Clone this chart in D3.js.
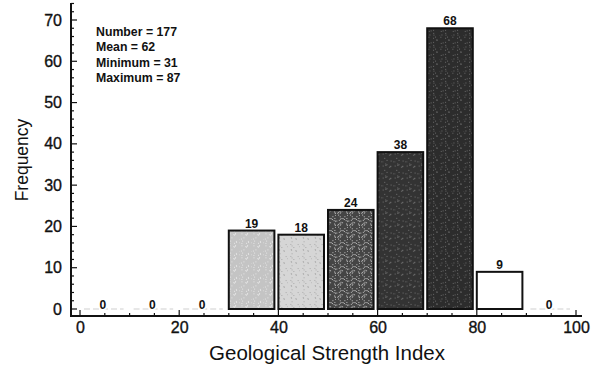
<!DOCTYPE html>
<html>
<head>
<meta charset="utf-8">
<script src="https://cdn.jsdelivr.net/npm/d3@7"></script>
<style>
  body { margin: 0; background: #fff; }
  svg { font-family: "Liberation Sans", Arial, sans-serif; }
</style>
</head>
<body>
<div id="chart"></div>
<script>
// histogram bins (lower edge) and counts
const binStarts = [0, 10, 20, 30, 40, 50, 60, 70, 80, 90];
const counts = [0, 0, 0, 19, 18, 24, 38, 68, 9, 0];
const statLines = ["Number = 177", "Mean = 62", "Minimum = 31", "Maximum = 87"];
const xTicks = [0, 20, 40, 60, 80, 100];
const yTicks = [0, 10, 20, 30, 40, 50, 60, 70];

const width = 600, height = 368;
const axisY = 316;

let x = d3.scaleLinear().domain([0, 100]).range([80, 576]);
let y = d3.scaleLinear().domain([0, 70]).range([309, 20]);

let svg = d3.select("#chart").append("svg")
    .attr("width", width)
    .attr("height", height);

// speckle patterns to mimic the print texture
let defs = svg.append("defs");
function speckle(id, base, dot, n, seed) {
    let p = defs.append("pattern")
        .attr("id", id)
        .attr("patternUnits", "userSpaceOnUse")
        .attr("width", 12).attr("height", 12);
    p.append("rect").attr("width", 12).attr("height", 12).attr("fill", base);
    let s = seed;
    for (let i = 0; i < n; i++) {
        s = (s * 9301 + 49297) % 233280;
        let px = (s / 233280) * 12;
        s = (s * 9301 + 49297) % 233280;
        let py = (s / 233280) * 12;
        p.append("rect").attr("x", px).attr("y", py)
            .attr("width", 1).attr("height", 1).attr("fill", dot);
    }
}
speckle("p3", "#c4c4c4", "#e6e6e6", 14, 7);
speckle("p4", "#d6d6d6", "#aaaaaa", 10, 11);
speckle("p5", "#454545", "#c0c0c0", 24, 3);
speckle("p6", "#333333", "#707070", 12, 5);
speckle("p7", "#2c2c2c", "#686868", 12, 13);
const binFills = [null, null, null, "url(#p3)", "url(#p4)", "url(#p5)", "url(#p6)", "url(#p7)", "#ffffff", null];

const bw = x(10) - x(0) - 4;

// zero-count bins: faint baseline
svg.selectAll(".zero-line")
    .data(binStarts.filter((d, i) => counts[i] === 0))
  .enter().append("line")
    .attr("class", "zero-line")
    .attr("x1", d => x(d) + 4)
    .attr("x2", d => x(d) + bw - 2)
    .attr("y1", y(0)).attr("y2", y(0))
    .attr("stroke", "#cfcfcf")
    .attr("stroke-width", 1.2)
    .attr("stroke-dasharray", "6,3");

// bars
svg.selectAll(".bar")
    .data(binStarts.map((d, i) => ({ start: d, count: counts[i], fill: binFills[i] })).filter(d => d.count > 0))
  .enter().append("rect")
    .attr("class", "bar")
    .attr("x", d => x(d.start))
    .attr("y", d => y(d.count))
    .attr("width", bw)
    .attr("height", d => y(0) - y(d.count))
    .attr("fill", d => d.fill)
    .attr("stroke", "#111")
    .attr("stroke-width", 2);

// count labels
svg.selectAll(".count")
    .data(binStarts.map((d, i) => ({ start: d, count: counts[i] })))
  .enter().append("text")
    .attr("class", "count")
    .attr("x", d => x(d.start) + bw / 2)
    .attr("y", d => d.count > 0 ? y(d.count) - 3 : y(0))
    .attr("text-anchor", "middle")
    .attr("font-size", 12)
    .attr("font-weight", "bold")
    .attr("fill", "#111")
    .attr("stroke", d => d.count > 0 ? "none" : "#fff")
    .attr("stroke-width", 3)
    .attr("paint-order", "stroke")
    .text(d => d.count);

// axes
let xAxis = d3.axisBottom(x).tickValues(xTicks).tickSize(0).tickPadding(6);
let yAxis = d3.axisLeft(y).tickValues(yTicks).tickSize(0).tickPadding(9);

let gx = svg.append("g")
    .attr("transform", `translate(0,${axisY})`)
    .call(xAxis);
gx.select(".domain").remove();
gx.selectAll(".tick text").attr("font-size", 16).attr("fill", "#111")
    .attr("stroke", "#111").attr("stroke-width", 0.35);

let gy = svg.append("g")
    .attr("transform", "translate(71,0)")
    .call(yAxis);
gy.select(".domain").remove();
gy.selectAll(".tick text").attr("font-size", 16).attr("fill", "#111")
    .attr("stroke", "#111").attr("stroke-width", 0.35);

// axis lines
svg.append("line")
    .attr("x1", 71).attr("x2", 71).attr("y1", 3).attr("y2", axisY)
    .attr("stroke", "#111").attr("stroke-width", 2);
svg.append("line")
    .attr("x1", 70).attr("x2", 582).attr("y1", axisY).attr("y2", axisY)
    .attr("stroke", "#111").attr("stroke-width", 2);

// inward ticks: y every 2, major every 10
svg.selectAll(".ytick")
    .data(d3.range(0, 75, 2))
  .enter().append("line")
    .attr("x1", 71)
    .attr("x2", d => d % 10 === 0 ? 77 : 74)
    .attr("y1", d => y(d)).attr("y2", d => y(d))
    .attr("stroke", "#111").attr("stroke-width", 1.2);

// inward ticks: x every 5, major every 20
svg.selectAll(".xtick")
    .data(d3.range(0, 101, 5))
  .enter().append("line")
    .attr("x1", d => x(d)).attr("x2", d => x(d))
    .attr("y1", axisY)
    .attr("y2", d => d % 20 === 0 ? axisY - 6 : axisY - 3)
    .attr("stroke", "#111").attr("stroke-width", 1.2);

// axis titles
svg.append("text")
    .attr("x", 327)
    .attr("y", 360)
    .attr("text-anchor", "middle")
    .attr("font-size", 20.5)
    .attr("fill", "#111")
    .text("Geological Strength Index");

svg.append("text")
    .attr("transform", "translate(28,160) rotate(-90)")
    .attr("text-anchor", "middle")
    .attr("font-size", 17.5)
    .attr("fill", "#111")
    .text("Frequency");

// summary statistics
svg.selectAll(".stat")
    .data(statLines)
  .enter().append("text")
    .attr("class", "stat")
    .attr("x", 96)
    .attr("y", (d, i) => 36 + i * 15.3)
    .attr("font-size", 12.3)
    .attr("font-weight", "bold")
    .attr("fill", "#111")
    .text(d => d);
</script>
</body>
</html>
